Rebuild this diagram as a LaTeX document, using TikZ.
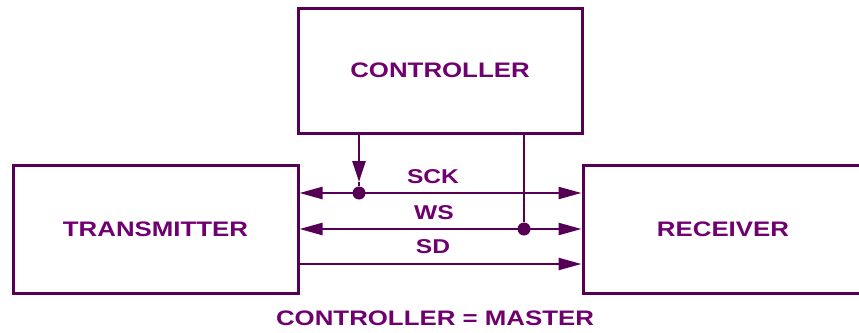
\documentclass[tikz,border=0pt]{standalone}
\usepackage{fontspec}
\newfontfamily\labfont[FakeStretch=1.23]{Liberation Sans}
\usetikzlibrary{arrows.meta}
\definecolor{linecol}{RGB}{85,0,85}
\definecolor{textcol}{RGB}{112,0,112}
\tikzset{
  blockbox/.style={draw=linecol, line width=3pt, inner sep=0pt, font=\labfont\bfseries\fontsize{21}{25}\selectfont, text=textcol},
  sigline/.style={draw=linecol, line width=2.4pt},
  tri/.tip={Triangle[length=23pt,width=12pt]},
  siglabel/.style={font=\labfont\bfseries\fontsize{20}{24}\selectfont, text=textcol, inner sep=0pt},
  junction/.style={circle, fill=linecol, minimum size=13pt, inner sep=0pt}
}
\begin{document}
\begin{tikzpicture}[x=1pt,y=-1pt]
\useasboundingbox (0,0) rectangle (859,332);
\node[blockbox, minimum width=284pt, minimum height=125pt] (ctl) at (440,70.5) {CONTROLLER};
\node[blockbox, minimum width=285pt, minimum height=128pt] (tx) at (155.5,229) {TRANSMITTER};
\node[blockbox, minimum width=280pt, minimum height=128pt] (rx) at (723,229) {RECEIVER};
\coordinate (sck) at (359,193);
\coordinate (ws) at (524,229);
\coordinate (sd) at (440,264);
\coordinate (sckhead) at (359,182);
\node[junction] (sckdot) at (sck) {};
\node[junction] (wsdot) at (ws) {};
\draw[sigline, {tri[fill=linecol]}-{tri[fill=linecol]}] (tx.east |- sck) -- (rx.west |- sck);
\draw[sigline, {tri[fill=linecol]}-{tri[fill=linecol]}] (tx.east |- ws) -- (rx.west |- ws);
\draw[sigline, -{tri[fill=linecol]}] (tx.east |- sd) -- (rx.west |- sd);
\draw[sigline, -{Triangle[length=21pt,width=13pt,fill=linecol]}] (ctl.south -| sck) -- (sckhead);
\draw[sigline] (sckhead) -- (sckdot);
\draw[sigline] (ctl.south -| ws) -- (wsdot);
\node[siglabel] (scklab) at (433,177) {SCK};
\node[siglabel] (wslab) at (434,213) {WS};
\node[siglabel] (sdlab) at (433,247) {SD};
\node[siglabel, font=\labfont\bfseries\fontsize{21}{25}\selectfont] (note) at (435,318) {CONTROLLER = MASTER};
\end{tikzpicture}
\end{document}
